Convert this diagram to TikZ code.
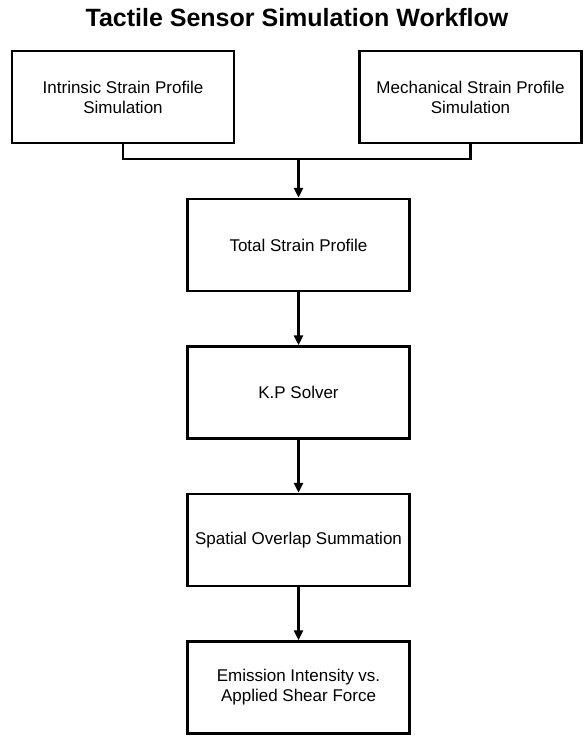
\documentclass[tikz,border=0pt]{standalone}
\usepackage{fontspec}
\setmainfont{Liberation Sans}
\usetikzlibrary{arrows.meta}

\tikzset{
  stagebox/.style={draw, line width=2.5pt, minimum width=222pt, minimum height=92pt,
    align=center, inner sep=2pt, font=\fontsize{17}{20}\selectfont},
  flowline/.style={line width=2.5pt},
  flowarrow/.style={line width=2.5pt, -{Triangle[length=10pt,width=9pt]}}
}

\begin{document}
\begin{tikzpicture}[x=1pt,y=-1pt]
      \useasboundingbox (0,0) rectangle (584,736);
      \node[anchor=base, font=\fontsize{25}{30}\selectfont\bfseries] (title) at (297,26.7) {Tactile Sensor Simulation Workflow};
      \node[stagebox] (intrinsic) at (123,97) {Intrinsic Strain Profile\\Simulation};
      \node[stagebox] (mechanical) at (470.5,97) {Mechanical Strain Profile\\Simulation};
      \node[stagebox] (total) at (298.5,245) {Total Strain Profile};
      \node[stagebox] (kp) at (298.5,392.5) {K.P Solver};
      \node[stagebox] (overlap) at (298.5,540) {Spatial Overlap Summation};
      \node[stagebox] (emission) at (298.5,687.5) {Emission Intensity vs.\\Applied Shear Force};
      \coordinate (join) at (298.5,159);
      \draw[flowline] (intrinsic.south) |- (join) -| (mechanical.south);
      \draw[flowarrow] (join) -- (total.north);
      \draw[flowarrow] (total) -- (kp);
      \draw[flowarrow] (kp) -- (overlap);
      \draw[flowarrow] (overlap) -- (emission);
    \end{tikzpicture}
\end{document}
